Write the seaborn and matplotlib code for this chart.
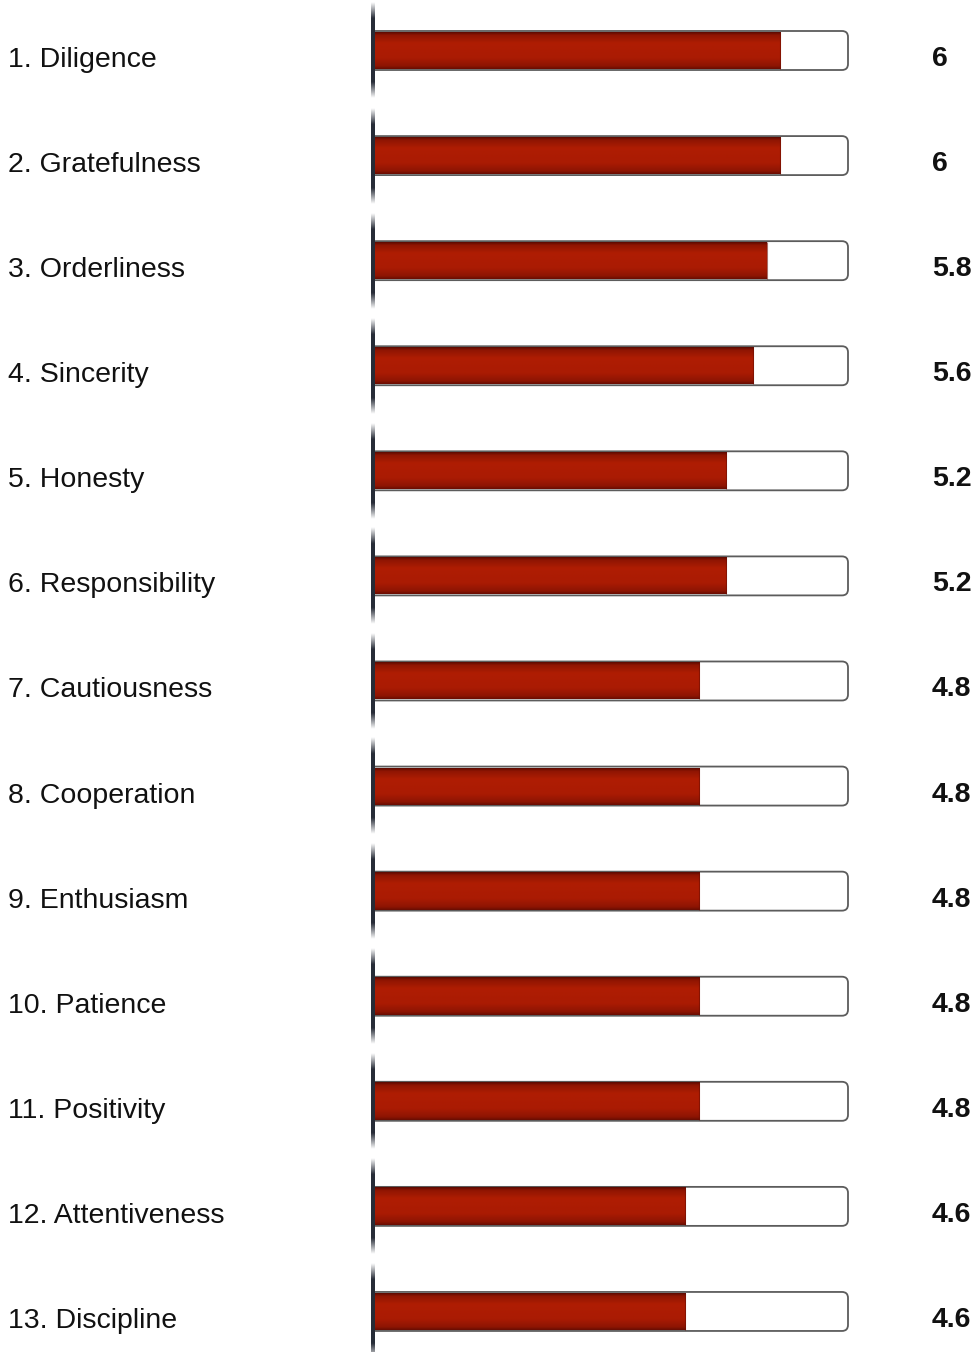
import numpy as np
import matplotlib
matplotlib.use("Agg")
import matplotlib.pyplot as plt
import matplotlib.transforms as mtransforms
from matplotlib.patches import FancyBboxPatch, Rectangle
from matplotlib.colors import LinearSegmentedColormap, to_rgb
import seaborn as sns

# Character strengths and their scores (scale 0-7)
names = ["Diligence", "Gratefulness", "Orderliness", "Sincerity", "Honesty",
         "Responsibility", "Cautiousness", "Cooperation", "Enthusiasm",
         "Patience", "Positivity", "Attentiveness", "Discipline"]
values = [6, 6, 5.8, 5.6, 5.2, 5.2, 4.8, 4.8, 4.8, 4.8, 4.8, 4.6, 4.6]
scale_max = 7

sns.set_style("white")
plt.rcParams["font.family"] = ["Liberation Sans", "DejaVu Sans"]

W, H = 978, 1352
fig = plt.figure(figsize=(W / 100, H / 100), dpi=100)

# geometry in pixels
track_left, track_right = 374, 848
k = (track_right - track_left) / scale_max      # px per score unit
row_px = 105.08                                 # px per row
top_px = 50.5                                   # first row centre
ax_l, ax_r = 360, 864
ax = fig.add_axes([ax_l / W, 0, (ax_r - ax_l) / W, 1])

bar_h = 37 / row_px
track_h = 39 / row_px
RED = "#a81b03"

sns.barplot(x=values, y=names, orient="h", color=RED, saturation=1,
            width=bar_h, ax=ax)
bars = list(ax.patches)

# clip region so the tracks have a flat left end
clip = Rectangle((0, -5), scale_max + 2, 30, transform=ax.transData,
                 fc="none", ec="none")

for i in range(len(names)):
    track = FancyBboxPatch((-0.4, i - track_h / 2), scale_max + 0.4, track_h,
                           boxstyle=f"round,pad=0,rounding_size={6 / k}",
                           mutation_aspect=k / row_px,
                           fc="white", ec="#5c5c5c", lw=1.3, zorder=1)
    ax.add_patch(track)
    track.set_clip_path(clip)

# glossy vertical gradient on each filled bar
grad_cmap = LinearSegmentedColormap.from_list(
    "barfill",
    [(0.0, "#5e0b01"), (0.08, "#901502"), (0.30, "#af1d03"),
     (0.70, "#aa1b03"), (0.92, "#8e1503"), (1.0, "#6a0d02")])
grad = np.linspace(0, 1, 64).reshape(-1, 1)
for p in bars:
    p.set_zorder(2)
    p.set_edgecolor("none")
    x0, y0 = p.get_x(), p.get_y()
    w, h = p.get_width(), p.get_height()
    ax.imshow(grad, cmap=grad_cmap, aspect="auto", origin="upper",
              extent=(x0, x0 + w, y0 + h, y0), zorder=3,
              interpolation="bilinear")
    ax.plot([x0 + w, x0 + w], [y0, y0 + h], color="#6e0e02", lw=0.8,
            alpha=0.6, zorder=3.5, solid_capstyle="butt")

# dark axis segments fading out between rows
n = 200
seg_half = 48 / row_px
fade = 16 / 96
t = np.linspace(0, 1, n)
alpha = np.clip(np.minimum(t, 1 - t) / fade, 0, 1)
line_rgba = np.zeros((n, 1, 4))
line_rgba[:, 0, :3] = to_rgb("#272c37")
line_rgba[:, 0, 3] = alpha
for i in range(len(names)):
    ax.imshow(line_rgba, aspect="auto", origin="upper",
              extent=(-2.5 / k, 1.2 / k, i + seg_half, i - seg_half),
              zorder=4, interpolation="bilinear")

ax.set_xlim((ax_l - track_left) / k, (ax_r - track_left) / k)
ax.set_ylim((H - top_px) / row_px, -top_px / row_px)
ax.axis("off")

# row labels and score values
trans = mtransforms.blended_transform_factory(fig.transFigure, ax.transData)
for i, (name, v) in enumerate(zip(names, values)):
    fig.text(8 / W, i + 16.5 / row_px, f"{i + 1}. {name}", transform=trans,
             ha="left", va="baseline", fontsize=20.5, color="#111111")
    fig.text(932 / W, i + 15.5 / row_px, f"{v:g}", transform=trans,
             ha="left", va="baseline", fontsize=20.5, fontweight="bold",
             color="#111111")

fig.savefig("out.png", dpi=100)
